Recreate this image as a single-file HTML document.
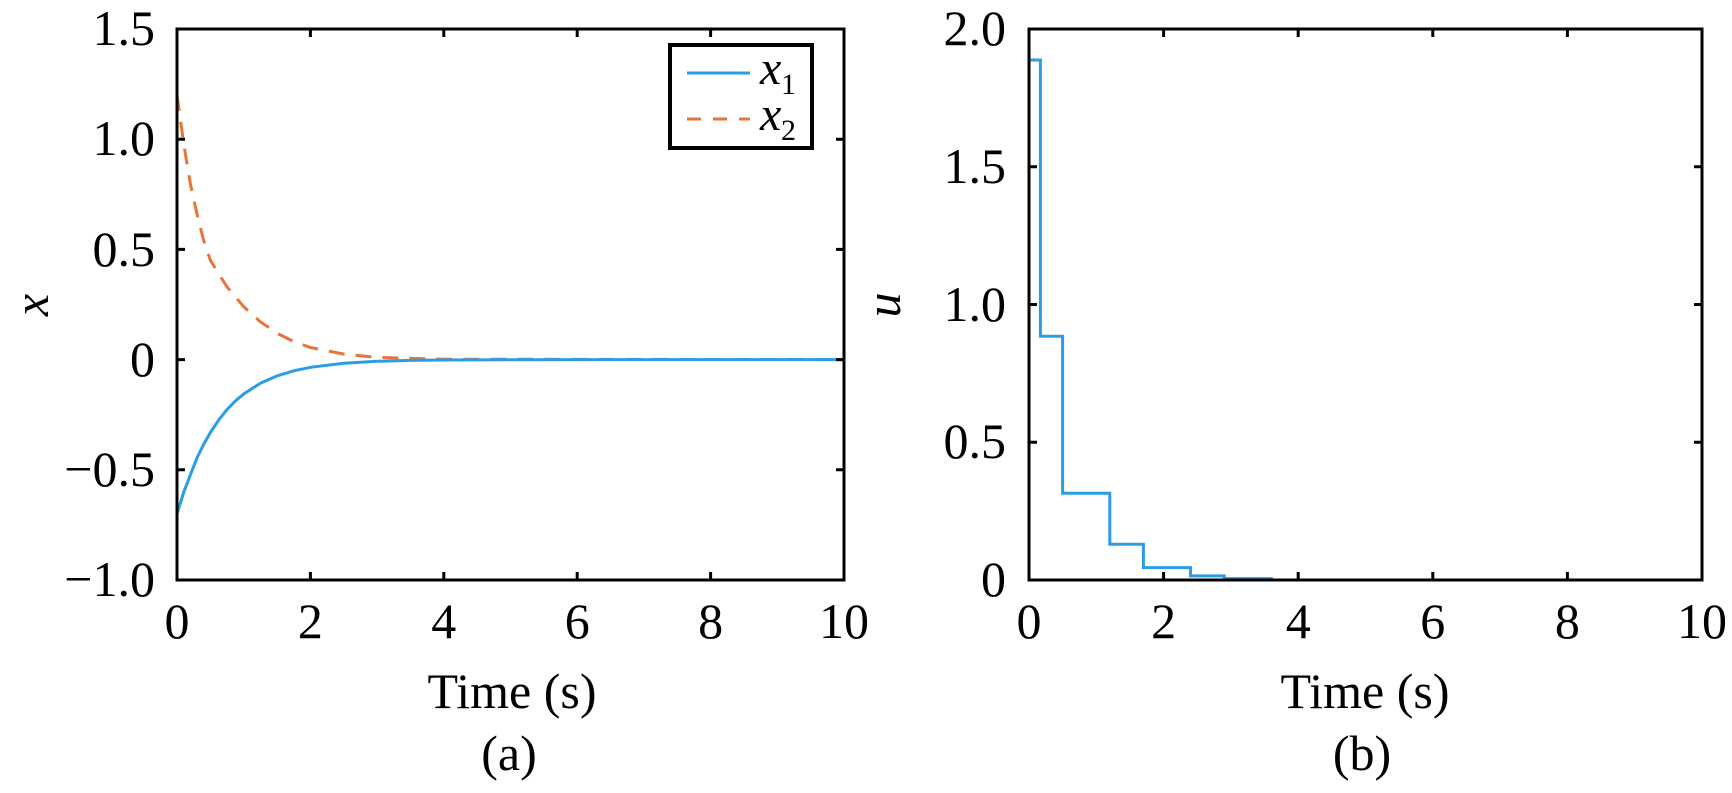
<!DOCTYPE html>
<html><head><meta charset="utf-8"><style>
html,body{margin:0;padding:0;background:#fff}
svg{display:block}
text{font-family:"Liberation Serif","Times New Roman",serif;fill:#000}
</style></head><body>
<svg width="1732" height="793" viewBox="0 0 1732 793" xmlns="http://www.w3.org/2000/svg" font-family="Liberation Serif, serif">
<defs>
<clipPath id="c1"><rect x="177" y="29" width="667" height="551"/></clipPath>
<clipPath id="c2"><rect x="1029" y="29" width="673" height="553"/></clipPath>
</defs>
<!-- Left plot -->
<g clip-path="url(#c1)" fill="none" stroke-width="3">
<path stroke="#e8743b" stroke-dasharray="16,11" d="M177,95.1 L183.7,143.6 L190.3,183.3 L197,214.1 L203.7,240.6 L210.4,260.4 L227,286.9 L243.7,306.7 L260,321.5 L277,333.2 L293.7,341.5 L310.4,347.5 L343.8,354.1 L377.1,357.4 L443.8,359.2 L844,359.6"/>
<path stroke="#2b9de8" d="M177,513.9 L183.7,492.3 L190.3,475 L197,457.9 L203.7,444.2 L210.4,432.6 L218.7,420 L227,409.6 L235.4,401 L243.7,394 L260.4,383.2 L277,375.9 L293.7,370.8 L310.4,367.3 L343.8,363.2 L377.1,361.3 L410.5,360.4 L443.8,360 L510.5,359.7 L844,359.6"/>
</g>
<g stroke="#000" stroke-width="3" fill="none">
<rect x="177" y="29" width="667" height="551"/>
<path d="M310.4,580v-8M443.8,580v-8M577.2,580v-8M710.6,580v-8M310.4,29v8M443.8,29v8M577.2,29v8M710.6,29v8
M177,139.2h8M177,249.4h8M177,359.6h8M177,469.8h8M844,139.2h-8M844,249.4h-8M844,359.6h-8M844,469.8h-8"/>
</g>
<!-- legend -->
<rect x="670" y="45" width="142" height="103" fill="#fff" stroke="#000" stroke-width="4"/>
<line x1="687" y1="73" x2="750" y2="73" stroke="#2b9de8" stroke-width="3"/>
<line x1="687" y1="119" x2="750" y2="119" stroke="#e8743b" stroke-width="3" stroke-dasharray="14,12"/>
<text x="760" y="84" font-size="48" font-style="italic">x</text><text x="781" y="94" font-size="30">1</text>
<text x="760" y="130" font-size="48" font-style="italic">x</text><text x="781" y="140" font-size="30">2</text>
<g font-size="50" text-anchor="end">
<text x="155" y="45">1.5</text>
<text x="155" y="155">1.0</text>
<text x="155" y="266">0.5</text>
<text x="155" y="376">0</text>
<text x="155" y="486">−0.5</text>
<text x="155" y="596">−1.0</text>
</g>
<g font-size="50" text-anchor="middle">
<text x="177" y="638">0</text>
<text x="310.4" y="638">2</text>
<text x="443.8" y="638">4</text>
<text x="577.2" y="638">6</text>
<text x="710.6" y="638">8</text>
<text x="844" y="638">10</text>
<text x="512" y="708">Time (s)</text>
<text x="509" y="770">(a)</text>
</g>
<text transform="translate(48,305) rotate(-90)" font-size="50" font-style="italic" text-anchor="middle">x</text>

<!-- Right plot -->
<g clip-path="url(#c2)" fill="none" stroke-width="3">
<path stroke="#2b9de8" d="M1029,60 L1040.4,60 L1040.4,336.2 L1062.6,336.2 L1062.6,493.2 L1109.8,493.2 L1109.8,544.2 L1143.4,544.2 L1143.4,567.6 L1190.5,567.6 L1190.5,575.9 L1224.2,575.9 L1224.2,578.6 L1271.3,578.6 L1271.3,580 L1702,580"/>
</g>
<g stroke="#000" stroke-width="3" fill="none">
<rect x="1029" y="29" width="673" height="551"/>
<path d="M1163.6,580v-8M1298.2,580v-8M1432.8,580v-8M1567.4,580v-8M1163.6,29v8M1298.2,29v8M1432.8,29v8M1567.4,29v8
M1029,166.75h8M1029,304.5h8M1029,442.25h8M1702,166.75h-8M1702,304.5h-8M1702,442.25h-8"/>
</g>
<g font-size="50" text-anchor="end">
<text x="1006" y="45">2.0</text>
<text x="1006" y="183">1.5</text>
<text x="1006" y="321">1.0</text>
<text x="1006" y="458">0.5</text>
<text x="1006" y="596">0</text>
</g>
<g font-size="50" text-anchor="middle">
<text x="1029" y="638">0</text>
<text x="1163.6" y="638">2</text>
<text x="1298.2" y="638">4</text>
<text x="1432.8" y="638">6</text>
<text x="1567.4" y="638">8</text>
<text x="1702" y="638">10</text>
<text x="1365" y="708">Time (s)</text>
<text x="1362" y="770">(b)</text>
</g>
<text transform="translate(900,305) rotate(-90)" font-size="50" font-style="italic" text-anchor="middle">u</text>
</svg>
</body></html>
